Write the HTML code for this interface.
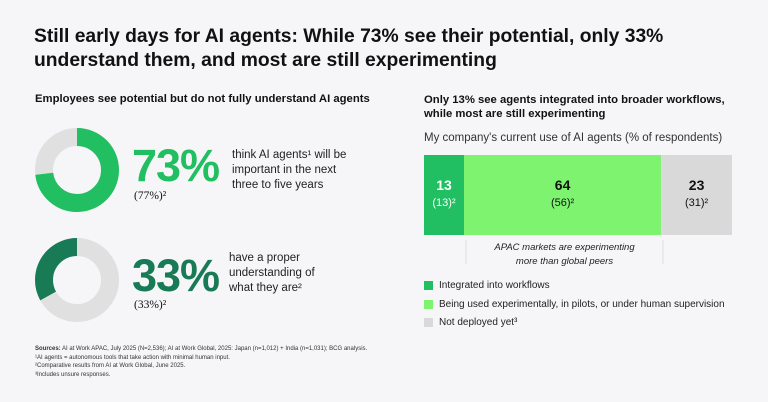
<!DOCTYPE html>
<html><head><meta charset="utf-8">
<style>
body{margin:0;width:768px;height:402px;background:#f6f6f8;font-family:"Liberation Sans",sans-serif;color:#111;overflow:hidden;position:relative}
.a{position:absolute;white-space:nowrap}
</style></head><body>
<div class="a" style="left:34px;top:25px;font-size:19.3px;font-weight:bold;line-height:24px">Still early days for AI agents: While 73% see their potential, only 33%<br>understand them, and most are still experimenting</div>
<div class="a" style="left:35px;top:93px;font-size:11.3px;font-weight:bold">Employees see potential but do not fully understand AI agents</div>
<div class="a" style="left:424px;top:93px;font-size:11.3px;font-weight:bold;line-height:14px">Only 13% see agents integrated into broader workflows,<br>while most are still experimenting</div>
<div class="a" style="left:424px;top:132px;font-size:11.5px;color:#333">My company's current use of AI agents (% of respondents)</div>

<svg class="a" style="left:0;top:0" width="768" height="402" id="chart">
<g id="donuts"></g><g id="bars"></g>
<line x1="466" y1="240" x2="466" y2="264" stroke="#ddd"/>
<line x1="663" y1="240" x2="663" y2="264" stroke="#ddd"/>
</svg>

<div class="a" style="left:132px;top:140px;font-size:45px;font-weight:bold;color:#21bf61;letter-spacing:-1px">73%</div>
<div class="a" style="left:134px;top:190px;font-size:11.5px;font-family:'Liberation Serif',serif">(77%)²</div>
<div class="a" style="left:232px;top:148px;font-size:11.5px;line-height:15px;color:#222">think AI agents¹ will be<br>important in the next<br>three to five years</div>
<div class="a" style="left:132px;top:250px;font-size:45px;font-weight:bold;color:#197a56;letter-spacing:-1px">33%</div>
<div class="a" style="left:134px;top:299px;font-size:11.5px;font-family:'Liberation Serif',serif">(33%)²</div>
<div class="a" style="left:229px;top:251px;font-size:11.5px;line-height:15px;color:#222">have a proper<br>understanding of<br>what they are²</div>

<div class="a" style="left:466px;top:241px;width:197px;text-align:center;font-size:9.5px;font-style:italic;line-height:14px;color:#222">APAC markets are experimenting<br>more than global peers</div>

<div id="legend"></div>

<div class="a" style="left:35px;top:345px;font-size:6px;line-height:8.7px;color:#333"><b>Sources:</b> AI at Work APAC, July 2025 (N=2,536); AI at Work Global, 2025: Japan (n=1,012) + India (n=1,031); BCG analysis.<br>¹AI agents = autonomous tools that take action with minimal human input.<br>²Comparative results from AI at Work Global, June 2025.<br>³Includes unsure responses.</div>

<script>
const donutValues=[73,33];
const donutColors=['#21bf61','#197a56'];
const donutDirections=[1,-1];
const barCategories=['Integrated into workflows','Being used experimentally, in pilots, or under human supervision','Not deployed yet³'];
const barValues=[13,64,23];
const barGlobal=[13,56,31];
const barColors=['#21bf61','#7ef36f','#d9d9d9'];

const NS='http://www.w3.org/2000/svg';
function mk(t,a){const e=document.createElementNS(NS,t);for(const k in a)e.setAttribute(k,a[k]);return e;}
const dg=document.getElementById('donuts');
const centers=[[77,170],[77,280]];
donutValues.forEach((v,i)=>{
  const [cx,cy]=centers[i],r=33,w=18,C=2*Math.PI*r;
  const bg=mk('circle',{cx,cy,r,fill:'none',stroke:'#e0e0e0','stroke-width':w});
  
  
  dg.appendChild(bg);
  const flip=donutDirections[i]<0?` translate(${2*cx} 0) scale(-1 1)`:'';
  const arc=mk('circle',{cx,cy,r,fill:'none',stroke:donutColors[i],'stroke-width':w,'stroke-dasharray':(C*v/100)+' '+C,transform:`${flip} rotate(-90 ${cx} ${cy})`});
  
  
  dg.appendChild(arc);
});
const bg=document.getElementById('bars');
const x0=424,x1=732,y0=155,h=80;
const xs=v=>x0+(x1-x0)*v/100;
let acc=0;
barValues.forEach((v,i)=>{
  const xa=xs(acc),xb=xs(acc+v);acc+=v;
  const r=mk('rect',{x:xa,y:y0,width:xb-xa,height:h,fill:barColors[i]});
  
  
  bg.appendChild(r);
  const col=i==0?'#fff':'#111';
  const t=mk('text',{x:(xa+xb)/2,y:y0+35,'text-anchor':'middle','font-size':14,'font-weight':'bold',fill:col});
  t.textContent=v;
  
  
  bg.appendChild(t);
  const g=mk('text',{x:(xa+xb)/2,y:y0+51,'text-anchor':'middle','font-size':11,fill:col});
  g.textContent='('+barGlobal[i]+')²';
  
  
  bg.appendChild(g);
});
const lg=document.getElementById('legend');
barCategories.forEach((c,i)=>{
  const d=document.createElement('div');
  d.className='a';
  
  
  d.style.cssText=`left:424px;top:${280+i*18.5}px;font-size:10px;color:#222;display:flex;align-items:center`;
  d.innerHTML=`<span style="display:inline-block;width:9px;height:9px;background:${barColors[i]};margin-right:6px"></span>${c}`;
  lg.appendChild(d);
});
</script>
</body></html>
